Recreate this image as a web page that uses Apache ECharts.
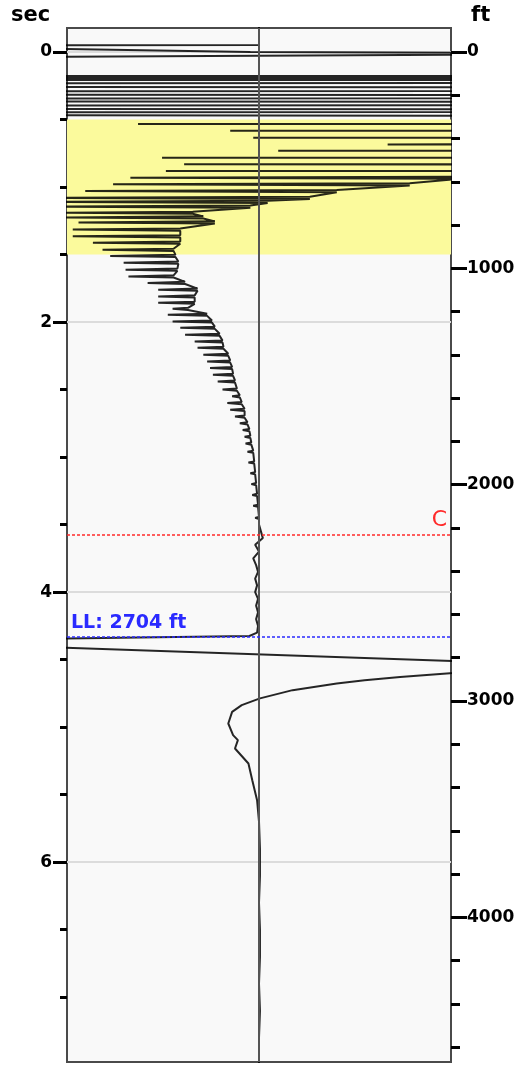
<!DOCTYPE html>
<html>
<head>
<meta charset="utf-8">
<script src="https://cdn.jsdelivr.net/npm/echarts@6/dist/echarts.min.js"></script>
<style>
  html, body { margin: 0; padding: 0; background: #fff; }
  #main { width: 518px; height: 1066px; }
</style>
</head>
<body>
<div id="main"></div>
<script>
// axis ranges (sec on the left, ft on the right, both downwards)
const secRange = [-0.178, 7.48];
const ftRange = [-111, 4669];

const secLabels = [0, 2, 4, 6];
const secTicks = [0, 0.5, 1, 1.5, 2, 2.5, 3, 3.5, 4, 4.5, 5, 5.5, 6, 6.5, 7];
const ftLabels = [0, 1000, 2000, 3000, 4000];
const ftTicks = [0, 200, 400, 600, 800, 1000, 1200, 1400, 1600, 1800, 2000, 2200, 2400,
  2600, 2800, 3000, 3200, 3400, 3600, 3800, 4000, 4200, 4400, 4600];

// marker depths (ft)
const cFt = 2233;
const llFt = 2704;

// early wild swings, clipped at both edges
const topSec = [-0.2, -0.052, -0.047, 0.0, 0.012, 0.042, 0.17, 0.185, 0.2, 0.215, 0.245,
  0.275, 0.305, 0.33, 0.355, 0.38, 0.41, 0.435, 0.455, 0.485];
const topAmp = [0, 0, -400, -9, 400, -400, -3000, 3000, -3000, 3000, -3000,
  3000, -3000, 3000, -3000, 3000, -3000, 3000, -3000, 3000];

// spikes: time, left tip, right baseline
const spikeSec = [0.533, 0.583, 0.635, 0.684, 0.731, 0.783, 0.832, 0.881, 0.931, 0.98,
  1.03, 1.08, 1.11, 1.145, 1.19, 1.225, 1.262, 1.315, 1.365, 1.412, 1.465,
  1.51, 1.56, 1.612, 1.662, 1.71, 1.76, 1.81, 1.857, 1.902, 1.946, 1.996, 2.042,
  2.094, 2.144, 2.19, 2.242, 2.292, 2.34, 2.39, 2.44, 2.5, 2.55, 2.6, 2.65, 2.7,
  2.75, 2.8, 2.85, 2.9, 2.96, 3.04, 3.12, 3.2, 3.28, 3.36, 3.45];
const spikeLeft = [-126, -30, -6, 134, 20, -101, -78, -97, -134, -152,
  -181, -230, -230, -230, -205, -205, -188, -194, -194, -173, -163,
  -155, -141, -139, -136, -116, -105, -105, -105, -90, -95, -90, -82,
  -77, -67, -64, -58, -54, -51, -48, -43, -38, -28, -33, -30, -25,
  -20, -17, -15, -14, -12, -11, -9, -8, -7, -6, -4];
const spikeRight = [3000, 3000, 3000, 3000, 3000, 3000, 3000, 3000, 210, 157,
  81, 53, 9, -9, -69, -58, -46, -82, -82, -82, -89,
  -87, -84, -85, -89, -77, -64, -67, -67, -74, -54, -49, -46,
  -41, -38, -37, -32, -30, -28, -27, -25, -23, -20, -18, -15, -15,
  -12, -10, -9, -8, -6, -5, -4, -3, -2, -1, 0];

// quiet part, the big swing near LL and the settling tail
const tailSec = [3.5, 3.55, 3.6, 3.65, 3.7, 3.75, 3.8, 3.85, 3.9, 3.95, 4.0, 4.05, 4.1,
  4.15, 4.2, 4.25, 4.3, 4.325, 4.363, 4.559, 4.58, 4.6, 4.628, 4.652, 4.676, 4.726,
  4.787, 4.837, 4.887, 4.973, 5.059, 5.096, 5.158, 5.269, 5.393, 5.541, 5.7, 5.9,
  6.1, 6.3, 6.5, 6.7, 6.9, 7.1, 7.3, 7.5];
const tailAmp = [0, 2, 4, -4, 0, -6, -3, -1, -4, -2, -4, -1, -3,
  -1, -3, -1, -2, -10, -400, 400, 300, 199, 147, 110, 81, 35,
  1, -18, -28, -32, -27, -22, -25, -11, -7, -2, 0, 1,
  1, 0, 1, 1, 0, 1, 0, 0];

const SPIKE_HALF = 0.008;

const trace = [];
topSec.forEach((t, i) => trace.push([topAmp[i], t]));
spikeSec.forEach((t, i) => {
  trace.push([spikeRight[i], t - SPIKE_HALF]);
  trace.push([spikeLeft[i], t]);
  trace.push([spikeRight[i], t + SPIKE_HALF]);
});
tailSec.forEach((t, i) => trace.push([tailAmp[i], t]));

const labelFont = { color: '#000', fontWeight: 'bold', fontSize: 17, fontFamily: 'DejaVu Sans' };

const chart = echarts.init(document.getElementById('main'));
chart.setOption({
  animation: false,
  title: [
    { text: 'sec', left: 6, top: 0, textStyle: { ...labelFont, fontSize: 21 } },
    { text: 'ft', left: 466, top: 0, textStyle: { ...labelFont, fontSize: 21 } }
  ],
  grid: {
    left: 67, right: 67, top: 28, bottom: 4,
    show: true, backgroundColor: '#f9f9f9', borderColor: '#4a4a4a', borderWidth: 2
  },
  xAxis: {
    type: 'value', min: -200, max: 200,
    axisLine: { show: false, onZero: false }, axisTick: { show: false },
    axisLabel: { show: false }, splitLine: { show: false }
  },
  yAxis: [
    {
      type: 'value', position: 'left', inverse: true, min: secRange[0], max: secRange[1],
      axisLine: { show: false, onZero: false },
      axisTick: { show: true, length: 14, customValues: secLabels, lineStyle: { color: '#000', width: 3 } },
      axisLabel: { ...labelFont, margin: 15, customValues: secLabels, formatter: (v) => String(v) },
      splitLine: { show: true, lineStyle: { color: '#dcdcdc', width: 2 } }
    },
    {
      type: 'value', position: 'right', inverse: true, min: ftRange[0], max: ftRange[1],
      axisLine: { show: false, onZero: false },
      axisTick: { show: true, length: 16, customValues: ftLabels, lineStyle: { color: '#000', width: 3 } },
      axisLabel: { ...labelFont, margin: 16, customValues: ftLabels, formatter: (v) => String(v) },
      splitLine: { show: false }
    },
    {
      type: 'value', position: 'left', inverse: true, min: secRange[0], max: secRange[1],
      axisLine: { show: false, onZero: false },
      axisTick: { show: true, length: 7, customValues: secTicks, lineStyle: { color: '#000', width: 3 } },
      axisLabel: { show: false }, splitLine: { show: false }
    },
    {
      type: 'value', position: 'right', inverse: true, min: ftRange[0], max: ftRange[1],
      axisLine: { show: false, onZero: false },
      axisTick: { show: true, length: 9, customValues: ftTicks, lineStyle: { color: '#000', width: 3 } },
      axisLabel: { show: false }, splitLine: { show: false }
    }
  ],
  series: [
    {
      name: 'trace',
      type: 'line',
      xAxisIndex: 0,
      yAxisIndex: 0,
      data: trace,
      showSymbol: false,
      symbol: 'none',
      clip: true,
      lineStyle: { color: '#000', width: 2, opacity: 0.85 },
      markArea: {
        silent: true,
        itemStyle: { color: '#fbfa9c' },
        data: [[{ yAxis: 0.5 }, { yAxis: 1.5 }]]
      },
      z: 3
    },
    {
      name: 'markers',
      type: 'line',
      xAxisIndex: 0,
      yAxisIndex: 1,
      data: [[0, llFt]],
      showSymbol: false,
      symbol: 'none',
      lineStyle: { width: 0 },
      markLine: {
        silent: true,
        symbol: 'none',
        data: [
          {
            xAxis: 0,
            lineStyle: { color: '#555', type: 'solid', width: 2 },
            label: { show: false }
          },
          {
            yAxis: cFt,
            lineStyle: { color: '#ff2a2a', type: [3, 2], width: 1.5 },
            label: { formatter: 'C', position: 'insideEndTop', color: '#ff2a2a', fontSize: 22, fontFamily: 'DejaVu Sans', distance: 4 }
          },
          {
            yAxis: llFt,
            lineStyle: { color: '#2a2aff', type: [3, 2], width: 1.5 },
            label: { formatter: 'LL: 2704 ft', position: 'insideStartTop', color: '#2a2aff', fontSize: 19, fontWeight: 'bold', fontFamily: 'DejaVu Sans', distance: 4 }
          }
        ]
      },
      z: 4
    }
  ]
});
</script>
</body>
</html>
